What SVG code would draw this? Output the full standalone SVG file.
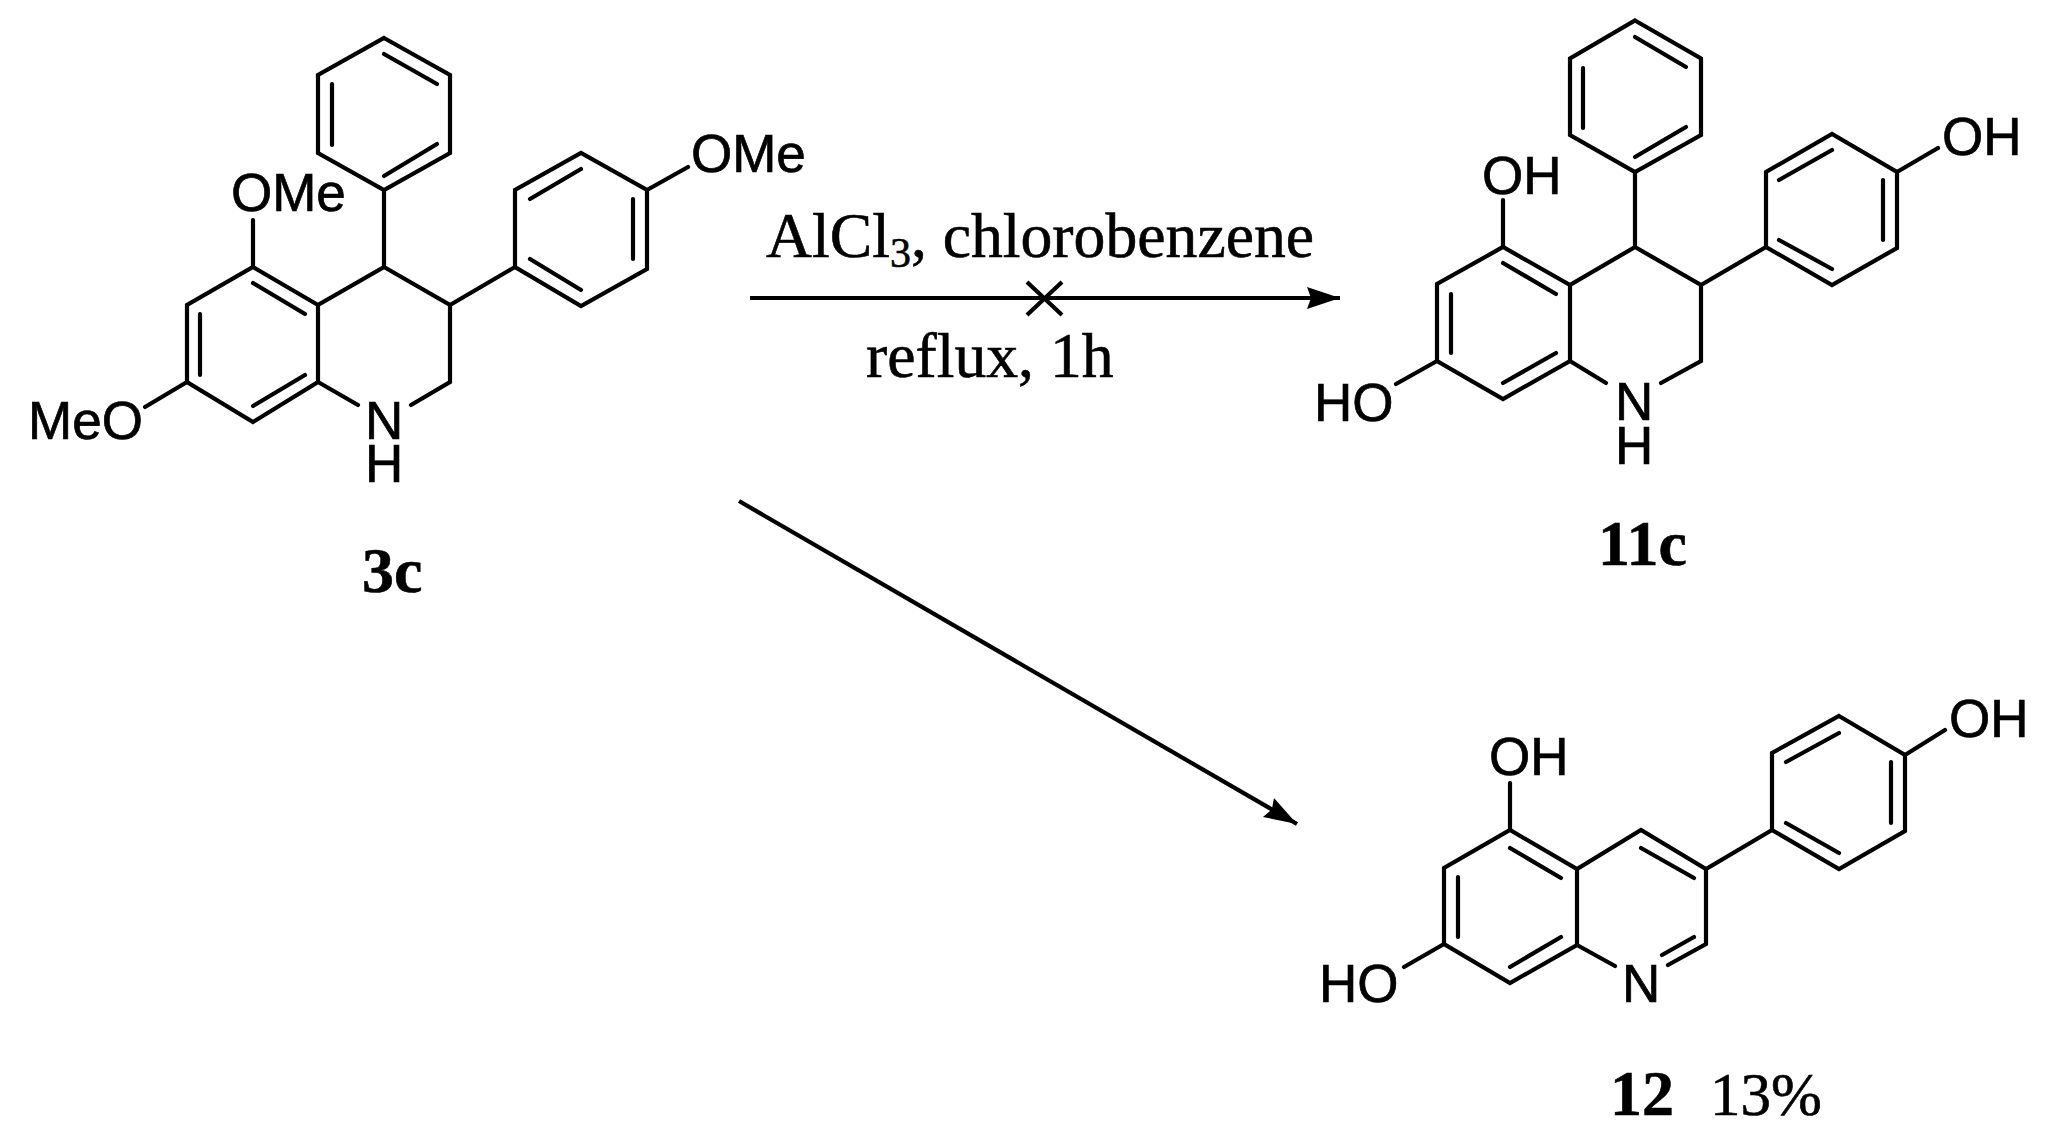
<svg xmlns="http://www.w3.org/2000/svg" width="2048" height="1146" viewBox="0 0 2048 1146">
<style>
.b{stroke:#000;stroke-width:4.2;fill:none;stroke-linecap:round;stroke-linejoin:miter}
.a{font-family:"Liberation Sans",Arial,sans-serif;font-size:53px;fill:#000;stroke:#000;stroke-width:.7px}
.t{font-family:"Liberation Serif","Times New Roman",serif;font-size:63.700px;fill:#000;stroke:#000;stroke-width:.6px}
.l{font-family:"Liberation Serif","Times New Roman",serif;font-size:64px;fill:#000;stroke:#000;stroke-width:.6px}
.bold{font-weight:bold}
.c{stroke:#000;stroke-width:4.200;fill:none}
</style>
<defs>
<marker id="arrow" markerUnits="userSpaceOnUse" markerWidth="36" markerHeight="28" refX="33" refY="14" orient="auto">
<path d="M0 3L33 14L0 25L4 14Z" fill="#000"/>
</marker>
</defs>
<rect width="2048" height="1146" fill="#fff"/>
<g id="molecule-3c">
<path class="b" d="M384 38L450 75V153L384 190L318 153V75Z"/>
<path class="b" d="M384 54L437 84M332 84V145M384 176L437 144"/>
<path class="b" d="M384 190V267L318 305V382L253 422L187 382V305L253 267L318 305M384 267L450 305V382L411 405M318 382L358 405M450 305L515 267"/>
<path class="b" d="M253 283L305 314M200 314V375M253 406L305 375"/>
<path class="b" d="M515 267V190L581 153L647 190V269L581 306Z"/>
<path class="b" d="M530 199L581 169M633 199V259M530 259L581 290"/>
<path class="b" d="M253 267V220M187 382L145 407M647 190L688 167"/>
<text class="a" x="691" y="172">OMe</text>
<text class="a" x="231" y="211">OMe</text>
<text class="a" x="28" y="439">MeO</text>
<text class="a" x="365" y="439">N</text>
<text class="a" x="365" y="482">H</text>
<text class="l bold" x="362" y="592">3c</text>
</g>
<g id="molecule-11c">
<path class="b" d="M1635 20.500L1701 58.500V135L1635 172L1570 135V58.500Z"/>
<path class="b" d="M1635 37L1686 67M1583 68V128M1635 157L1686 127"/>
<path class="b" d="M1635 172V247L1570 285V361L1503 399L1437 361V284L1503 247L1570 285M1635 247L1701 285V361L1661 383M1570 361L1606 383M1701 285L1766 247"/>
<path class="b" d="M1503 263L1556 294M1451 294V353M1503 383L1556 353"/>
<path class="b" d="M1766 247V172L1832 134L1897 172V248L1832 285Z"/>
<path class="b" d="M1779 180L1832 150M1883 180V240M1779 240L1832 269"/>
<path class="b" d="M1503 247V200M1437 361L1396 384M1897 172L1938 148"/>
<text class="a" x="1942" y="155">OH</text>
<text class="a" x="1482" y="194">OH</text>
<text class="a" x="1314" y="421">HO</text>
<text class="a" x="1615" y="420">N</text>
<text class="a" x="1615" y="464">H</text>
<text class="l bold" x="1598" y="565">11c</text>
</g>
<g id="molecule-12">
<path class="b" d="M1839 716L1905 755V831L1839 869L1772 830V753Z"/>
<path class="b" d="M1786 762L1839 733M1891 762V823M1786 823L1839 853"/>
<path class="b" d="M1772 830L1706 869L1641 830L1577 869L1510 830L1444 868V944L1510 983L1577 945V869M1706 869V944L1668 965M1577 945L1615 966"/>
<path class="b" d="M1510 848L1561 878M1458 877V937M1510 967L1561 937M1641 848L1694 878M1694 937L1662 955"/>
<path class="b" d="M1510 830V783M1444 944L1404 967M1905 755L1945 730"/>
<text class="a" x="1949" y="737">OH</text>
<text class="a" x="1489" y="775">OH</text>
<text class="a" x="1319" y="1002">HO</text>
<text class="a" x="1622" y="1002">N</text>
<text class="l bold" x="1610" y="1115">12</text>
<text class="l" x="1710" y="1115" style="font-size:61px">13%</text>
</g>
<g id="connectors">
<line class="c" x1="750" y1="298" x2="1340" y2="298" marker-end="url(#arrow)"/>
<path class="c" d="M1027 282L1062 315M1062 282L1027 315"/>
<line class="c" x1="739" y1="501" x2="1297" y2="824" marker-end="url(#arrow)"/>
</g>
<g id="reaction-conditions">
<text class="t" x="766" y="257">AlCl<tspan font-size="42" dy="10">3</tspan><tspan dy="-10">, chlorobenzene</tspan></text>
<text class="t" x="866" y="377">reflux, 1h</text>
</g>
</svg>
